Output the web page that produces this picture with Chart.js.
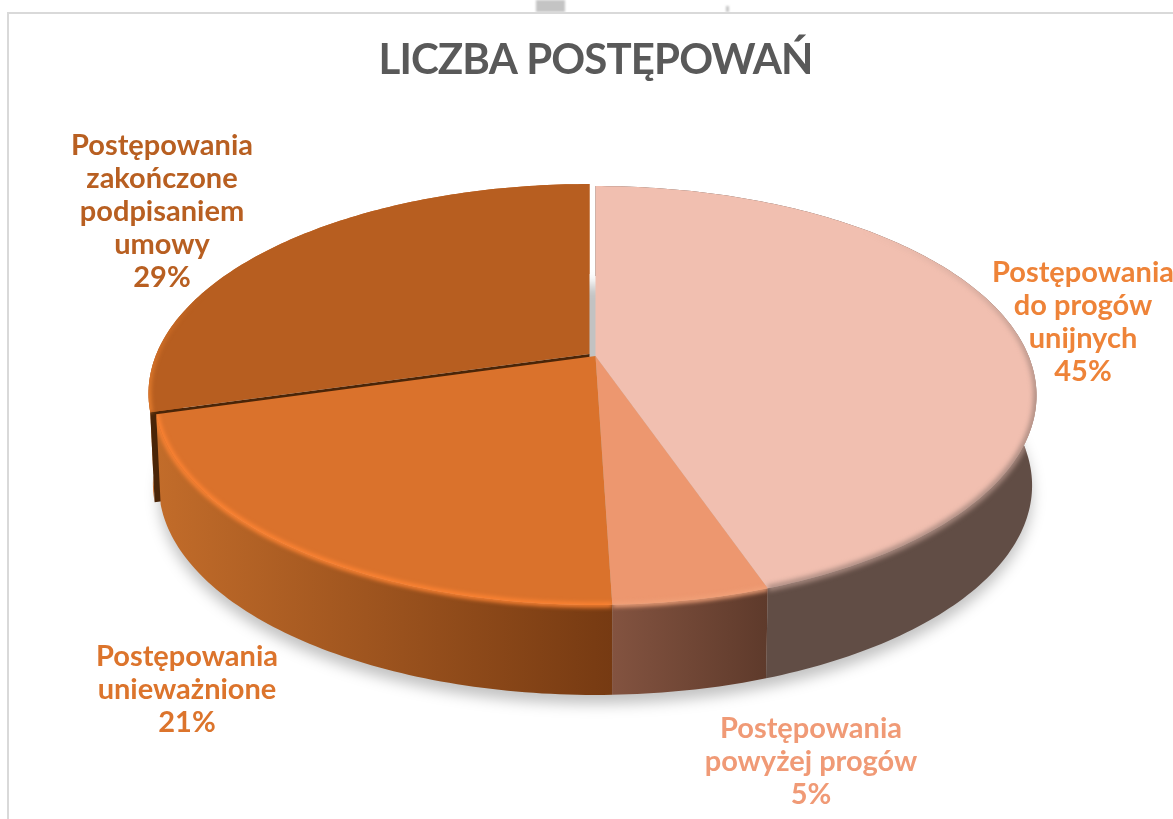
<!DOCTYPE html>
<html lang="pl">
<head>
<meta charset="utf-8">
<title>Liczba postępowań</title>
<script src="https://cdn.jsdelivr.net/npm/chart.js@4"></script>
<style>
    html, body { margin: 0; padding: 0; background: #fff; }
    #wrap { position: relative; width: 1173px; height: 819px; overflow: hidden; }
    #frame { position: absolute; left: 7px; top: 12px; right: -4px; bottom: -4px; border: 2px solid #d9d9d9; }
    .scrap { position: absolute; background: #c4c4c4; filter: blur(0.8px); }
    canvas { position: absolute; left: 0; top: 0; }
</style>
</head>
<body>
<div id="wrap">
    <canvas id="pie" width="1173" height="819"></canvas>
    <div class="scrap" style="left:536px; top:0; width:29px; height:12px"></div>
    <div class="scrap" style="left:726px; top:6px; width:3px; height:6px"></div>
    <div id="frame"></div>
</div>
<script>
// Dane
const chartTitle = 'LICZBA POSTĘPOWAŃ';
const categories = [
    ['Postępowania', 'do progów', 'unijnych'],
    ['Postępowania', 'powyżej progów'],
    ['Postępowania', 'unieważnione'],
    ['Postępowania', 'zakończone', 'podpisaniem', 'umowy']
];
const shares = [44.7, 4.8, 21.1, 29.4];

// Kolory
const topColors = ['#f1bfb0', '#ed976f', '#da722c', '#b75e20'];
const labelColors = ['#ee8338', '#f09a76', '#dc742c', '#b85f21'];
const rimColors = ['#a98a80', '#f0a078', '#ff8433', '#e9802f'];
const wallStops = [
    ['#614d45', '#614d45'],
    ['#835340', '#5e3a2b'],
    ['#c26c2a', '#763a12'],
    ['#c46a28', '#c46a28']
];
const cutColor = '#4a2508';

// Geometria rzutu 3D
const squash = 2.144;     // x radius / y radius
const tilt = 0.1886;      // perspective strength
const depth = 90;
const bottomScale = 0.99;
const sliceShift = [[0, 0], [0, 0], [0, 0], [-6, -2]];
const rimSpan = [[-70, 90], [-90, 90], [-90, 270], [-90, 215]];
const rimFade = [[230, 400], null, null, [290, 400]];
const labelCenters = [[1083, 273], [811, 729], [187, 657], [162, 146]];
const labelStep = 33;
const labelFont = 'bold 29px Lato';

function project(arc, angle, index, down) {
    const u = Math.cos(angle);
    const v = Math.sin(angle);
    const w = 1 - tilt * v;
    const shift = sliceShift[index];
    const scale = down ? bottomScale : 1;
    return {
        x: arc.x + shift[0] + scale * arc.outerRadius * squash * u / w,
        y: arc.y + shift[1] + arc.outerRadius * v / w + (down || 0)
    };
}

function arcPoints(arc, from, to, index, down) {
    const pts = [];
    const n = Math.max(2, Math.ceil((to - from) * 60));
    for (let i = 0; i <= n; i++) {
        pts.push(project(arc, from + (to - from) * i / n, index, down));
    }
    return pts;
}

function tracePoly(ctx, pts) {
    ctx.beginPath();
    pts.forEach((p, i) => { i ? ctx.lineTo(p.x, p.y) : ctx.moveTo(p.x, p.y); });
    ctx.closePath();
}

function wallPoints(arc, index) {
    const top = arcPoints(arc, arc.startAngle, arc.endAngle, index, 0);
    const bottom = arcPoints(arc, arc.startAngle, arc.endAngle, index, depth);
    return top.concat(bottom.reverse());
}

function drawShadow(ctx, arcs) {
    const arc = arcs[0];
    const ring = arcPoints(arc, 0, Math.PI * 2, 0, depth + 9);
    ctx.save();
    ctx.filter = 'blur(7px)';
    ctx.fillStyle = 'rgba(0,0,0,0.24)';
    tracePoly(ctx, ring);
    ctx.fill();
    ctx.restore();
}

function drawWall(ctx, arc, index) {
    const pts = wallPoints(arc, index);
    const xs = pts.map(p => p.x);
    const grad = ctx.createLinearGradient(Math.min(...xs), 0, Math.max(...xs), 0);
    grad.addColorStop(0, wallStops[index][0]);
    grad.addColorStop(1, wallStops[index][1]);
    ctx.fillStyle = grad;
    tracePoly(ctx, pts);
    ctx.fill();
}

function drawCut(ctx, arc, index) {
    // dark radial wall of the pulled-out slice
    const shift = sliceShift[index];
    const apex = { x: arc.x + shift[0], y: arc.y + shift[1] };
    const edge = project(arc, arc.startAngle, index, 0);
    const edgeDown = project(arc, arc.startAngle, index, depth);
    ctx.fillStyle = cutColor;
    tracePoly(ctx, [apex, edge, edgeDown, { x: apex.x, y: apex.y + depth }]);
    ctx.fill();
}

function drawTop(ctx, arc, index) {
    const shift = sliceShift[index];
    const pts = arcPoints(arc, arc.startAngle, arc.endAngle, index, 0);
    pts.unshift({ x: arc.x + shift[0], y: arc.y + shift[1] });
    ctx.fillStyle = topColors[index];
    tracePoly(ctx, pts);
    ctx.fill();
}

function rimStroke(ctx, index) {
    const fade = rimFade[index];
    if (!fade) return rimColors[index];
    // the highlight dies out towards the back of the pie
    const grad = ctx.createLinearGradient(0, fade[0], 0, fade[1]);
    grad.addColorStop(0, rimColors[index] + '00');
    grad.addColorStop(1, rimColors[index]);
    return grad;
}

function drawRim(ctx, arc, index) {
    const rad = Math.PI / 180;
    const from = Math.max(arc.startAngle, rimSpan[index][0] * rad);
    const to = Math.min(arc.endAngle, rimSpan[index][1] * rad);
    if (to <= from) return;
    const shape = wallPoints(arc, index);
    const face = arcPoints(arc, arc.startAngle, arc.endAngle, index, 0);
    face.unshift({ x: arc.x + sliceShift[index][0], y: arc.y + sliceShift[index][1] });
    ctx.save();
    ctx.beginPath();
    [shape, face].forEach(poly => {
        poly.forEach((p, i) => { i ? ctx.lineTo(p.x, p.y) : ctx.moveTo(p.x, p.y); });
        ctx.closePath();
    });
    ctx.clip('nonzero');
    ctx.filter = index === 0 ? 'blur(2.5px)' : 'blur(2px)';
    ctx.strokeStyle = rimStroke(ctx, index);
    ctx.lineWidth = index === 0 ? 6 : 5;
    const rim = arcPoints(arc, from, to, index, 0);
    ctx.beginPath();
    rim.forEach((p, i) => { i ? ctx.lineTo(p.x, p.y) : ctx.moveTo(p.x, p.y); });
    ctx.stroke();
    ctx.restore();
}

// Rysowanie ciasta 3D z elementów Chart.js
const pie3d = {
    id: 'pie3d',
    beforeDraw(chart) {
        chart.ctx.letterSpacing = '-0.9px';   // title only
    },
    beforeDatasetDraw(chart, args) {
        const ctx = chart.ctx;
        const arcs = chart.getDatasetMeta(args.index).data;
        drawShadow(ctx, arcs);
        drawWall(ctx, arcs[3], 3);
        drawCut(ctx, arcs[3], 3);
        drawTop(ctx, arcs[3], 3);
        drawRim(ctx, arcs[3], 3);
        [0, 1, 2].forEach(i => drawWall(ctx, arcs[i], i));
        [0, 1, 2].forEach(i => drawTop(ctx, arcs[i], i));
        [0, 1, 2].forEach(i => drawRim(ctx, arcs[i], i));
        return false;
    },
    afterDraw(chart) {
        const ctx = chart.ctx;
        ctx.save();
        ctx.letterSpacing = '0px';
        ctx.font = labelFont;
        ctx.textAlign = 'center';
        ctx.textBaseline = 'middle';
        categories.forEach((lines, i) => {
            ctx.fillStyle = labelColors[i];
            const all = lines.concat(Math.round(shares[i]) + '%');
            all.forEach((line, k) => {
                ctx.fillText(line, labelCenters[i][0], labelCenters[i][1] + k * labelStep);
            });
        });
        ctx.restore();
    }
};

new Chart(document.getElementById('pie'), {
    type: 'pie',
    data: {
        labels: categories.map(c => c.join(' ')),
        datasets: [{ data: shares, backgroundColor: topColors, borderWidth: 0 }]
    },
    options: {
        responsive: false,
        animation: false,
        events: [],
        layout: { padding: { left: 18, right: 0, top: 0, bottom: 261 } },
        plugins: {
            legend: { display: false },
            tooltip: { enabled: false },
            title: {
                display: true,
                text: chartTitle,
                color: '#595959',
                font: { family: 'Lato', size: 42, weight: 'bold', lineHeight: 54 / 42 },
                padding: { top: 33, bottom: 67 }
            }
        }
    },
    plugins: [pie3d]
});
</script>
</body>
</html>
